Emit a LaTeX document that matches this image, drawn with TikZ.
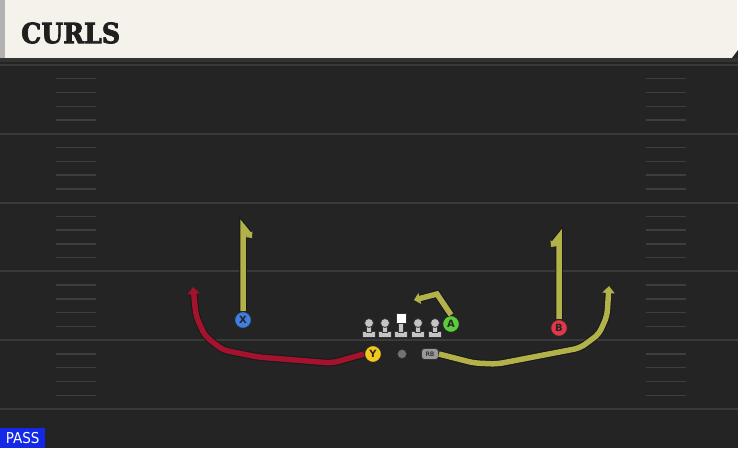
\documentclass[tikz,border=0pt]{standalone}
\usepackage{fontspec}
\usetikzlibrary{arrows.meta}
\newfontfamily\titlefont{DejaVu Serif Condensed}[FakeBold=2.5]
\newfontfamily\tagfont{DejaVu Sans Condensed}
\newfontfamily\letterfont{DejaVu Sans}

\definecolor{fieldbg}{HTML}{242424}
\definecolor{yardline}{HTML}{3A3A3A}
\definecolor{hashline}{HTML}{3E3E3E}
\definecolor{headerbg}{HTML}{F5F2EC}
\definecolor{olive}{HTML}{B3B14A}
\definecolor{crimson}{HTML}{A3132E}
\definecolor{xblue}{HTML}{3F7DDE}
\definecolor{bred}{HTML}{E0384A}
\definecolor{agreen}{HTML}{5CCB3C}
\definecolor{yyellow}{HTML}{F2C81E}
\definecolor{linegray}{HTML}{C4C4C4}
\definecolor{passblue}{HTML}{1428E6}

\tikzset{
  player/.style={circle, draw=black!85, line width=1.2pt, inner sep=0pt,
    minimum size=17pt, font=\letterfont\bfseries\fontsize{10}{10}\selectfont, text=black!85},
  route/.style={line width=5.5pt, rounded corners=6pt,
    preaction={draw=black!90, line width=7.5pt}},
  lineman/.style={fill=linegray, draw=black!80, line width=0.8pt},
}

\begin{document}
\begin{tikzpicture}[x=1pt,y=-1pt]
  \useasboundingbox (0,0) rectangle (738,448);

  % field
  \fill[fieldbg] (0,58) rectangle (738,448);
  \fill[black!80] (0,58) rectangle (738,62);
  \foreach \k in {0,...,5}
    \draw[yardline, line width=2pt] (0,65+68.8*\k) -- (738,65+68.8*\k);
  \foreach \k in {0,...,4}
    \foreach \j in {1,...,4} {
      \draw[hashline, line width=1.4pt] (56,65+68.8*\k+13.76*\j) -- (96,65+68.8*\k+13.76*\j);
      \draw[hashline, line width=1.4pt] (646,65+68.8*\k+13.76*\j) -- (686,65+68.8*\k+13.76*\j);
    }

  % header
  \fill[headerbg] (0,0) rectangle (737,58);
  \fill[black!30] (0,0) rectangle (5,58);
  \fill[black!85] (732,58) -- (738,50) -- (738,58) -- cycle;
  \node[anchor=west, inner sep=0pt, text=black!88,
    font=\titlefont\bfseries\fontsize{28}{28}\selectfont] (title) at (21,33) {CURLS};

  % line
  \foreach \lx in {369,385,418,435} {
    \filldraw[lineman] (\lx-6.5,331) rectangle (\lx+6.5,337);
    \filldraw[lineman] (\lx-2.5,325) rectangle (\lx+2.5,332);
    \filldraw[lineman] (\lx,323) circle (4.5pt);
  }
  \filldraw[lineman] (394.5,331) rectangle (407.5,337);
  \filldraw[lineman] (398.5,322) rectangle (403.5,332);
  \filldraw[fill=white, draw=black!80, line width=0.8pt] (396,313) rectangle (406,323);
  \filldraw[fill=black!55, draw=black!80] (402,354) circle (4.5pt);

  % players
  \node[player, fill=xblue] (X) at (243,320) {X};
  \node[player, fill=bred] (B) at (559,328) {B};
  \node[player, fill=agreen] (A) at (451,324) {A};
  \node[player, fill=yyellow] (Y) at (373,354) {Y};
  \node[rounded corners=3pt, fill=black!40, draw=black!80, line width=0.8pt,
    minimum width=17pt, minimum height=11pt, inner sep=0pt,
    font=\letterfont\fontsize{6}{6}\selectfont] (RB) at (430,354) {RB};

  \coordinate (Xtop) at (243,227);
  \coordinate (Xend) at (252,238);
  \coordinate (Btop) at (559,237);
  \coordinate (Bend) at (551,247);
  \coordinate (Aturn) at (437,294);
  \coordinate (Aend) at (414,300);
  \coordinate (Yend) at (193,287);
  \coordinate (RBend) at (609,286);

  % routes
  \draw[route, olive, rounded corners=0pt, -{Triangle[length=5pt,width=9pt]}] (X.north) -- (Xtop) -- (Xend);
  \draw[route, olive, rounded corners=0pt, -{Triangle[length=5pt,width=9pt]}] (B.north) -- (Btop) -- (Bend);
  \draw[route, olive, rounded corners=0pt, -{Triangle[length=6pt,width=11pt]}] (A.north) -- (Aturn) -- (Aend);
  \draw[route, crimson, -{Triangle[length=7pt,width=12pt]}] (Y.west) -- (332,363) -- (258,357)
    -- (223,350) -- (205,336) -- (196,316) -- (Yend);
  \draw[route, olive, -{Triangle[length=7pt,width=12pt]}] (RB.east) -- (474,363) -- (497,364)
    -- (580,348) -- (599,334) -- (607,316) -- (RBend);

  % tag
  \node[fill=passblue, text=white, anchor=south west, minimum width=45pt, minimum height=20pt,
    inner sep=0pt, font=\tagfont\fontsize{15}{15}\selectfont] (tag) at (0,448) {PASS};
\end{tikzpicture}
\end{document}
